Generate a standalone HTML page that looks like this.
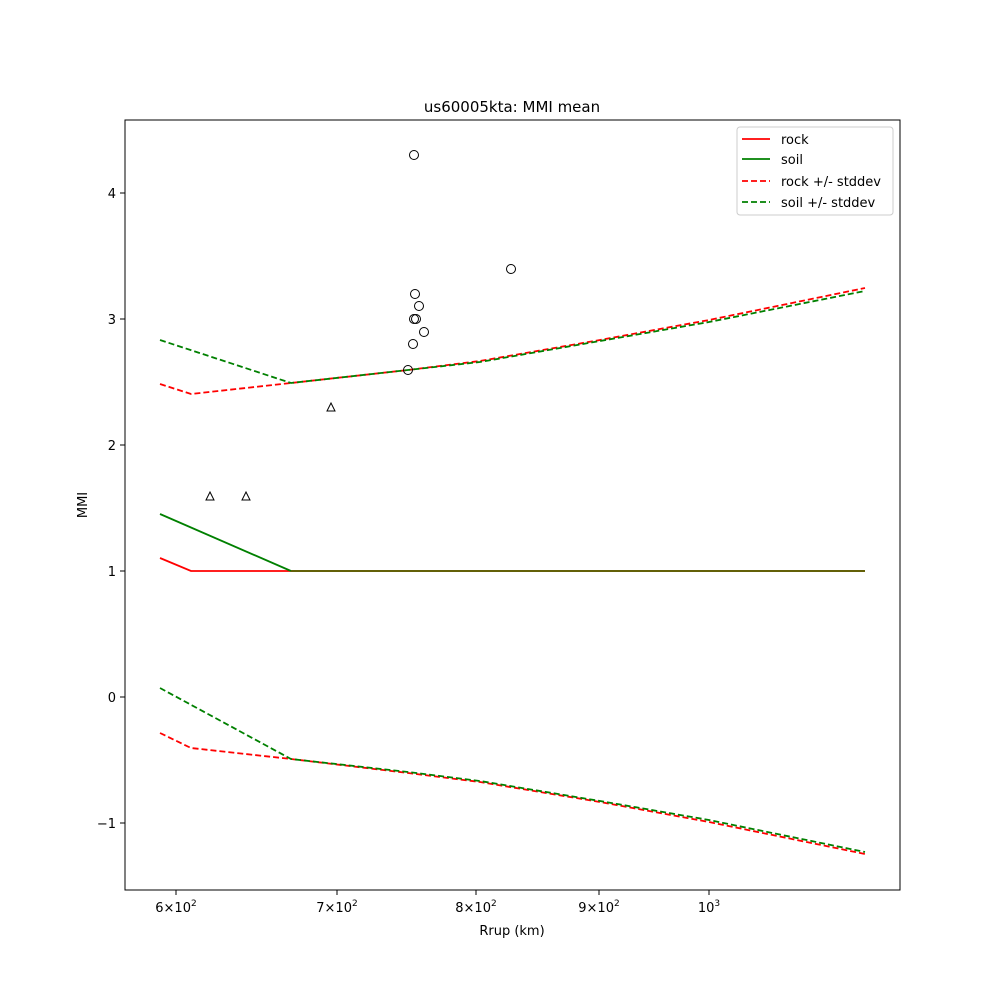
<!DOCTYPE html>
<html><head><style>body{margin:0;background:#fff}svg text{font-family:"DejaVu Sans","Liberation Sans",sans-serif}</style></head>
<body>
<svg width="1000" height="1000" xmlns="http://www.w3.org/2000/svg">
<rect width="1000" height="1000" fill="#fff"/>
<text x="512" y="112" font-size="15" text-anchor="middle">us60005kta: MMI mean</text>
<g fill="none" stroke-width="1.8">
<polyline points="160,558 191,571 865,571" stroke="#ff0000"/>
<polyline points="160,514 291,571" stroke="#008000"/>
<polyline points="291,571 865,571" stroke="#4d6600"/>
<polyline points="160,384 191,394 291,383 408,370 480,361 600,340 709,320 865,288" stroke="#ff0000" stroke-dasharray="6,3"/>
<polyline points="160,733 191,748 291,759 408,773 480,782 600,802 709,822 865,854" stroke="#ff0000" stroke-dasharray="6,3"/>
<polyline points="160,340 291,383 408,370 480,362 600,341 709,322 865,291" stroke="#008000" stroke-dasharray="6,3"/>
<polyline points="160,688 291,759 408,772 480,781 600,801 709,820 865,852" stroke="#008000" stroke-dasharray="6,3"/>
</g>
<g fill="none" stroke="#000" stroke-width="1">
<circle cx="414" cy="155" r="4.5"/><circle cx="511" cy="269" r="4.5"/><circle cx="415" cy="294" r="4.5"/><circle cx="419" cy="306" r="4.5"/><circle cx="414" cy="319" r="4.5"/><circle cx="416" cy="319" r="4.5"/><circle cx="424" cy="332" r="4.5"/><circle cx="413" cy="344" r="4.5"/><circle cx="408" cy="370" r="4.5"/>
<polygon points="331,403 335,411 327,411"/><polygon points="210,492 214,500 206,500"/><polygon points="246,492 250,500 242,500"/>
</g>
<rect x="125" y="120" width="775" height="770" fill="none" stroke="#000" stroke-width="1"/>
<g stroke="#000"><line x1="120" x2="125" y1="193" y2="193"/><line x1="120" x2="125" y1="319" y2="319"/><line x1="120" x2="125" y1="445" y2="445"/><line x1="120" x2="125" y1="571" y2="571"/><line x1="120" x2="125" y1="697" y2="697"/><line x1="120" x2="125" y1="823" y2="823"/>
<line x1="176" x2="176" y1="890" y2="895"/><line x1="337" x2="337" y1="890" y2="895"/><line x1="476" x2="476" y1="890" y2="895"/><line x1="599" x2="599" y1="890" y2="895"/><line x1="709" x2="709" y1="890" y2="895"/></g>
<g font-size="13" text-anchor="end"><text x="116" y="198">4</text><text x="116" y="324">3</text><text x="116" y="450">2</text><text x="116" y="576">1</text><text x="116" y="702">0</text><text x="116" y="828">−1</text></g>
<g font-size="13" text-anchor="middle"><text x="176" y="912">6×10<tspan font-size="9" dy="-6">2</tspan></text><text x="337" y="912">7×10<tspan font-size="9" dy="-6">2</tspan></text><text x="476" y="912">8×10<tspan font-size="9" dy="-6">2</tspan></text><text x="599" y="912">9×10<tspan font-size="9" dy="-6">2</tspan></text><text x="709" y="912">10<tspan font-size="9" dy="-6">3</tspan></text></g>
<text x="512" y="935" font-size="13" text-anchor="middle">Rrup (km)</text>
<text x="87" y="505" font-size="13" text-anchor="middle" transform="rotate(-90 87 505)">MMI</text>
<rect x="737" y="127" width="156" height="88" fill="#fff" stroke="#ccc" rx="3"/>
<g stroke-width="1.8"><line x1="742" x2="770" y1="139" y2="139" stroke="#f00"/><line x1="742" x2="770" y1="159" y2="159" stroke="#008000"/><line x1="742" x2="770" y1="181" y2="181" stroke="#f00" stroke-dasharray="6,3"/><line x1="742" x2="770" y1="202" y2="202" stroke="#008000" stroke-dasharray="6,3"/></g>
<g font-size="13"><text x="781" y="144">rock</text><text x="781" y="164">soil</text><text x="781" y="186">rock +/- stddev</text><text x="781" y="207">soil +/- stddev</text></g>
</svg>
</body></html>
